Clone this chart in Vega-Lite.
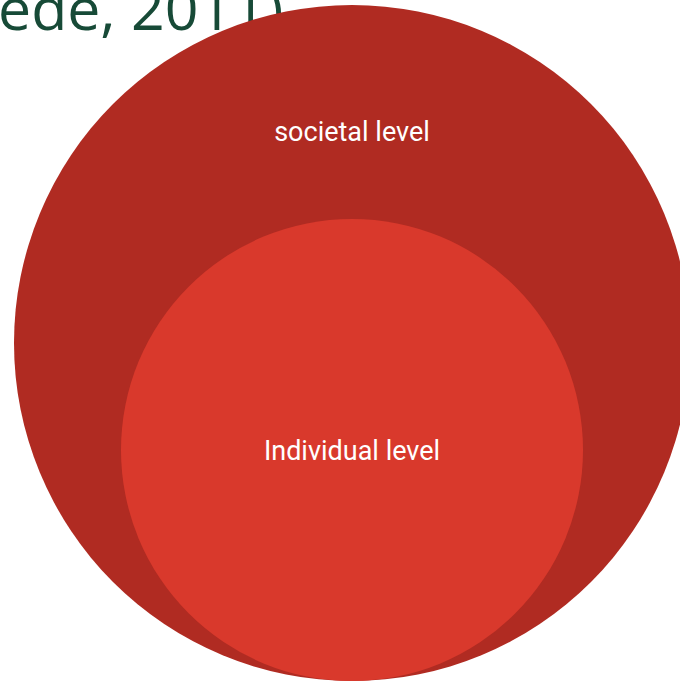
{
  "$schema": "https://vega.github.io/schema/vega-lite/v6.json",
  "width": 680,
  "height": 681,
  "padding": 0,
  "autosize": {"type": "none"},
  "background": "white",
  "config": {"view": {"stroke": null}},
  "datasets": {
    "circles": [
      {"level": "societal level", "cx": 352, "cy": 343, "radius": 338, "labelY": 133},
      {"level": "Individual level", "cx": 352, "cy": 450, "radius": 231, "labelY": 452}
    ],
    "title": [
      {"text": "ede, 2011)", "tx": -2, "ty": 30}
    ]
  },
  "layer": [
    {
      "data": {"name": "title"},
      "mark": {"type": "text", "align": "left", "baseline": "alphabetic", "font": "Open Sans", "fontSize": 59, "color": "#174a37"},
      "encoding": {
        "x": {"field": "tx", "type": "quantitative", "scale": {"domain": [0, 680], "range": [0, 680]}, "axis": null},
        "y": {"field": "ty", "type": "quantitative", "scale": {"domain": [0, 681], "range": [0, 681]}, "axis": null},
        "text": {"field": "text"}
      }
    },
    {
      "data": {"name": "circles"},
      "transform": [{"calculate": "4 * datum.radius * datum.radius", "as": "area"}],
      "mark": {"type": "point", "shape": "circle", "filled": true, "opacity": 1, "strokeWidth": 0},
      "encoding": {
        "x": {"field": "cx", "type": "quantitative", "scale": {"domain": [0, 680], "range": [0, 680]}, "axis": null},
        "y": {"field": "cy", "type": "quantitative", "scale": {"domain": [0, 681], "range": [0, 681]}, "axis": null},
        "size": {"field": "area", "type": "quantitative", "scale": null, "legend": null},
        "color": {"field": "level", "type": "nominal", "scale": {"domain": ["societal level", "Individual level"], "range": ["#b02b22", "#d9392c"]}, "legend": null}
      }
    },
    {
      "data": {"name": "circles"},
      "mark": {"type": "text", "align": "center", "baseline": "middle", "font": "Roboto", "fontSize": 27, "color": "white"},
      "encoding": {
        "x": {"field": "cx", "type": "quantitative", "scale": {"domain": [0, 680], "range": [0, 680]}, "axis": null},
        "y": {"field": "labelY", "type": "quantitative", "scale": {"domain": [0, 681], "range": [0, 681]}, "axis": null},
        "text": {"field": "level"}
      }
    }
  ]
}
